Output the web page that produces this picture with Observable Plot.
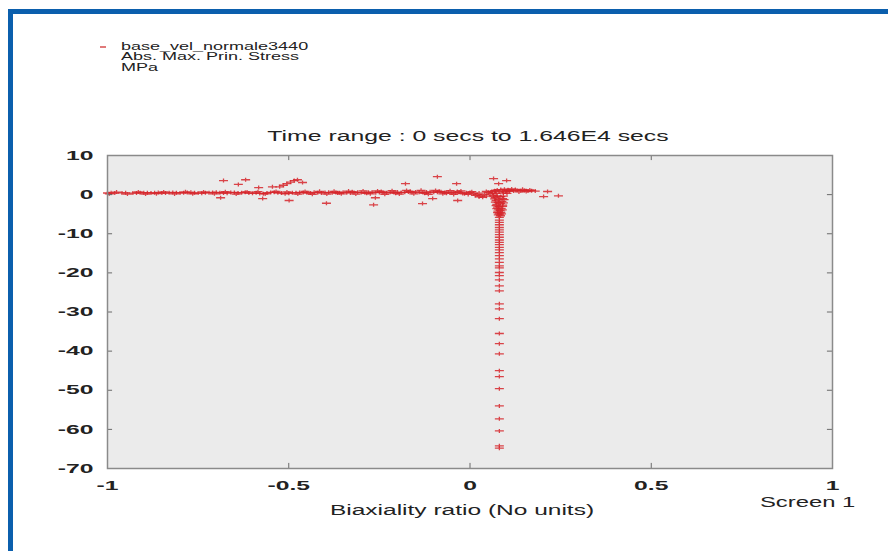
<!DOCTYPE html>
<html>
<head>
<meta charset="utf-8">
<script src="https://cdn.jsdelivr.net/npm/d3@7"></script>
<script src="https://cdn.jsdelivr.net/npm/@observablehq/plot@0.6"></script>
<style>
  body { margin: 0; background: #fff; }
  #wrap { position: relative; width: 888px; height: 551px; overflow: hidden; background: #fff;
          font-family: "Liberation Sans", Arial, sans-serif; color: #222; }
  #border { position: absolute; left: 8px; top: 9px; right: -20px; bottom: -20px;
            border-left: 5px solid #0b5fad; border-top: 5px solid #0b5fad; }
  #chart { position: absolute; left: 0; top: 0; }
  .t { position: absolute; white-space: nowrap; line-height: 1; }
  .center { text-align: center; width: 800px; transform-origin: center; }
  .left { transform-origin: left center; }
  .leg { font-size: 10px; height: 10px; transform: scaleX(1.8); }
</style>
</head>
<body>
<div id="wrap">
  <div id="border"></div>
  <div id="chart"></div>
  <div class="t" style="left:100px;top:46px;width:6px;height:1.5px;background:#e07a7a;"></div>
  <div class="t left leg" id="leg1" style="left:121px;top:41.5px;"></div>
  <div class="t left leg" id="leg2" style="left:121px;top:52px;"></div>
  <div class="t left leg" id="leg3" style="left:121px;top:62.5px;"></div>
  <div class="t center" id="title" style="left:68px;top:129px;font-size:14px;transform:scaleX(1.77);"></div>
  <div class="t center" id="xlabel" style="left:62px;top:503px;font-size:14px;transform:scaleX(1.75);"></div>
  <div class="t left" id="screen" style="left:760px;top:495px;font-size:14px;transform:scaleX(1.7);"></div>
</div>
<script>
// ---- text ----
const legendLines = ["base_vel_normale3440", "Abs. Max. Prin. Stress", "MPa"];
const titleText = "Time range : 0 secs to 1.646E4 secs";
const xLabelText = "Biaxiality ratio (No units)";
const screenText = "Screen 1";

// ---- axes ----
const xDomain = [-1, 1];
const yDomain = [-70, 10];
const xTicks = [-1, -0.5, 0, 0.5, 1];
const yTicks = [10, 0, -10, -20, -30, -40, -50, -60, -70];
const xInnerTicks = [-0.5, 0, 0.5];
const yInnerTicks = [0, -10, -20, -30, -40, -50, -60];

// ---- data: horizontal band near zero (x, y) ----
const bandMain = [
  [-1.00,0.42],[-0.99,0.45],[-0.98,0.40],[-0.96,0.44],[-0.95,0.47],[-0.93,0.40],[-0.92,0.43],[-0.91,0.48],
  [-0.90,0.45],[-0.89,0.50],[-0.88,0.42],[-0.87,0.46],[-0.86,0.52],[-0.85,0.44],[-0.84,0.40],[-0.83,0.47],
  [-0.82,0.55],[-0.81,0.50],[-0.80,0.43],[-0.79,0.48],[-0.78,0.52],[-0.77,0.58],[-0.76,0.45],[-0.75,0.40],
  [-0.74,0.36],[-0.73,0.50],[-0.72,0.46],[-0.71,0.55],[-0.70,0.60],[-0.69,0.48],[-0.68,0.42],[-0.67,0.38],
  [-0.66,0.52],[-0.65,0.57],[-0.64,0.44],[-0.63,0.48],[-0.62,0.62],[-0.61,0.40],[-0.60,0.35],[-0.59,0.46],
  [-0.58,0.30],[-0.57,0.25],[-0.56,0.42],[-0.55,0.55],[-0.54,0.60],[-0.53,0.48],[-0.52,0.40],[-0.51,0.22],
  [-0.50,0.35],[-0.49,0.50],[-0.48,0.45],[-0.47,0.55],[-0.46,0.52],[-0.45,0.48],[-0.44,0.40],[-0.43,0.58],
  [-0.42,0.50],[-0.41,0.44],[-0.40,0.52],[-0.39,0.60],[-0.38,0.46],[-0.37,0.55],[-0.36,0.48],[-0.35,0.62],
  [-0.34,0.50],[-0.33,0.44],[-0.32,0.56],[-0.31,0.60],[-0.30,0.52],[-0.29,0.46],[-0.28,0.58],[-0.27,0.64],
  [-0.26,0.50],[-0.25,0.55],[-0.24,0.60],[-0.23,0.48],[-0.22,0.62],[-0.21,0.56],[-0.20,0.66],[-0.19,0.52],
  [-0.18,0.58],[-0.17,0.64],[-0.16,0.55],[-0.15,0.70],[-0.14,0.60],[-0.13,0.52],[-0.12,0.66],[-0.11,0.72],
  [-0.10,0.58],[-0.09,0.62],[-0.08,0.74],[-0.07,0.56],[-0.06,0.66],[-0.05,0.50],[-0.04,0.42],[-0.03,0.60],
  [-0.02,0.30],[-0.01,0.45],[0.00,0.55],[0.01,0.30],[0.02,0.00],[0.03,-0.30],[0.04,0.00],[0.05,0.60],
  [0.06,0.80],[0.07,0.95],[0.08,0.70],[0.09,0.90],[0.10,1.00],[0.11,1.05],[0.12,0.95],[0.13,1.10],
  [0.14,1.00],[0.15,1.05],[0.16,0.95],[0.17,1.00],[0.18,0.92]
];
const bandExtra = [
  [-0.995,0.20],[-0.975,0.65],[-0.945,0.15],[-0.915,0.70],[-0.895,0.15],[-0.865,0.25],[-0.845,0.70],
  [-0.815,0.18],[-0.785,0.72],[-0.765,0.22],[-0.735,0.70],[-0.705,0.20],[-0.675,0.75],[-0.645,0.15],
  [-0.615,0.70],[-0.585,0.75],[-0.565,0.18],[-0.535,0.80],[-0.505,0.70],[-0.475,0.15],[-0.455,0.80],
  [-0.435,0.10],[-0.415,0.85],[-0.395,0.15],[-0.375,0.85],[-0.355,0.20],[-0.335,0.90],[-0.315,0.15],
  [-0.295,0.95],[-0.275,0.20],[-0.255,0.95],[-0.235,0.10],[-0.215,1.00],[-0.195,0.15],[-0.175,1.05],
  [-0.155,0.20],[-0.135,1.10],[-0.115,0.10],[-0.095,1.05],[-0.075,0.20],[-0.055,1.00],[-0.045,0.05],
  [-0.025,0.95],[-0.005,0.05],[0.015,-0.20],[0.025,-0.60],[0.035,-0.70],[0.045,-0.40],[0.055,0.20],
  [0.065,-0.20],[0.075,1.20],[0.085,1.30],[0.095,1.40],[0.105,1.25],[0.115,1.45],[0.125,1.30],
  [0.135,0.70],[0.145,1.35],[0.155,0.80],[0.165,1.20]
];
const bandDense = [
  [-0.365,0.40],[-0.325,0.75],[-0.285,0.35],[-0.245,0.80],[-0.205,0.35],[-0.165,0.85],[-0.125,0.35],
  [-0.085,0.85],[-0.065,0.35],[-0.035,0.80],[-0.015,0.20],[0.005,0.75],[0.025,0.40],[0.045,0.80],
  [0.062,0.40],[0.068,1.00],[0.072,0.30],[0.092,0.40],[0.098,0.70],[0.102,0.30],[0.108,0.85]
];

// ---- data: vertical column near x = 0.08 ----
const columnDense = [
  [0.075,-0.3],[0.085,-0.5],[0.070,-0.8],[0.090,-1.0],[0.080,-1.2],[0.072,-1.5],[0.088,-1.7],[0.078,-2.0],
  [0.084,-2.2],[0.074,-2.5],[0.090,-2.7],[0.080,-3.0],[0.076,-3.2],[0.086,-3.5],[0.079,-3.7],[0.083,-4.0],
  [0.077,-4.2],[0.085,-4.5],[0.080,-4.7],[0.082,-5.0],[0.078,-5.2],[0.084,-5.4],
  [0.066,-0.5],[0.092,-0.4],[0.068,-1.1],[0.094,-1.3],[0.070,-1.9],[0.092,-2.1],[0.072,-2.8],
  [0.090,-3.0],[0.074,-3.6],[0.089,-3.9],[0.076,-4.6],[0.087,-4.9]
];
const columnX = 0.081;
const columnY = [-5.8,-6.5,-7.1,-7.7,-8.4,-9.0,-9.6,-10.2,-10.9,-11.6,-12.2,-12.8,-13.5,-14.1,-14.8,-15.6,
  -16.4,-17.3,-18.2,-18.7,-19.9,-20.7,-21.8,-23.3,-24.6,-27.9,-29.2,-31.7,-35.5,-38.1,-40.7,-45.0,-46.5,
  -49.6,-54.0,-57.3,-60.4,-64.2,-64.8];

// ---- data: scattered outliers ----
const outliers = [
  [-0.688,-0.8],[-0.680,3.6],[-0.639,2.6],[-0.619,3.8],[-0.583,1.8],[-0.572,-1.0],[-0.545,2.0],
  [-0.525,2.0],[-0.515,2.4],[-0.505,2.8],[-0.495,3.2],[-0.485,3.6],[-0.476,3.8],[-0.462,3.1],
  [-0.499,-1.5],[-0.396,-2.2],[-0.261,-0.8],[-0.266,-2.6],[-0.178,2.8],[-0.131,-2.3],[-0.103,-1.0],
  [-0.090,4.6],[-0.037,2.8],[-0.034,-1.5],[0.065,4.1],[0.079,2.8],[0.101,3.6],[0.203,-0.5],
  [0.214,0.8],[0.244,-0.3]
];

const points = [
  ...bandMain, ...bandExtra, ...bandDense, ...columnDense,
  ...columnY.map(y => [columnX, y]),
  ...outliers
];

// custom "+" marker: wide horizontal, short vertical stroke
const plusMark = {
  draw(ctx) { ctx.moveTo(-4.5, 0); ctx.lineTo(4.5, 0); ctx.moveTo(0, -2); ctx.lineTo(0, 2); }
};

const red = "#d6262b";
const tickColor = "#6a6a6a";

const plot = Plot.plot({
  width: 888, height: 551,
  marginLeft: 107, marginRight: 56, marginTop: 155, marginBottom: 83,
  style: { background: "transparent", fontFamily: "Liberation Sans, Arial, sans-serif", color: "#222" },
  x: { domain: xDomain },
  y: { domain: yDomain },
  marks: [
    Plot.frame({ fill: "#ebebeb", stroke: null }),
    Plot.dot(points, { x: d => d[0], y: d => d[1], symbol: plusMark, stroke: red, fill: "none",
                       strokeWidth: 1.3, strokeOpacity: 0.85 }),
    Plot.ruleX(xInnerTicks, { x: d => d, y1: yDomain[0], y2: -68.7, stroke: tickColor }),
    Plot.ruleX(xInnerTicks, { x: d => d, y1: yDomain[1], y2: 8.7, stroke: tickColor }),
    Plot.ruleY(yInnerTicks, { y: d => d, x1: xDomain[0], x2: -0.986, stroke: tickColor }),
    Plot.ruleY(yInnerTicks, { y: d => d, x1: xDomain[1], x2: 0.986, stroke: tickColor }),
    Plot.frame({ stroke: "#8a8a8a", strokeWidth: 1.5 }),
    Plot.axisX(xTicks, { tickSize: 0, tickPadding: 12, tickFormat: d => String(d), label: null,
                         fontSize: 13, fontWeight: "bold" }),
    Plot.axisY(yTicks, { tickSize: 0, tickPadding: 14, tickFormat: d => String(d), label: null,
                         fontSize: 13, fontWeight: "bold" })
  ]
});

// widen the tick labels horizontally like the original rendering
plot.querySelectorAll('g[aria-label$="tick label"] text').forEach(t => {
  const tr = t.getAttribute("transform");
  if (tr) t.setAttribute("transform", tr + " scale(1.9,1)");
  else {
    const x = +t.getAttribute("x") || 0, y = +t.getAttribute("y") || 0;
    t.setAttribute("transform", `translate(${x},${y}) scale(1.9,1) translate(${-x},${-y})`);
  }
});

document.getElementById("chart").appendChild(plot);
document.getElementById("leg1").textContent = legendLines[0];
document.getElementById("leg2").textContent = legendLines[1];
document.getElementById("leg3").textContent = legendLines[2];
document.getElementById("title").textContent = titleText;
document.getElementById("xlabel").textContent = xLabelText;
document.getElementById("screen").textContent = screenText;
</script>
</body>
</html>
